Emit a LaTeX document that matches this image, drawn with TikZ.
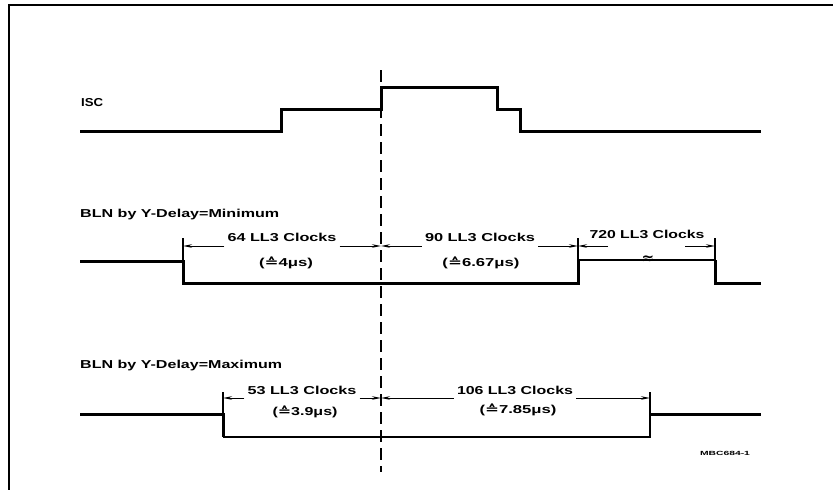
\documentclass[tikz,border=0pt]{standalone}
\usepackage{fontspec}
\setmainfont{Liberation Sans}
\newfontfamily\symf{DejaVu Sans}
\usetikzlibrary{arrows.meta}
\newcommand{\fw}[2]{\resizebox{#1pt}{\height}{#2}}
\newcommand{\corr}{{\symf\bfseries ≙}}
\begin{document}
\begin{tikzpicture}[x=1pt,y=-1pt,
  sig/.style={line width=3pt},
  lite/.style={line width=1.4pt},
  ext/.style={line width=1.2pt},
  dim/.style={line width=1pt,-{Stealth[length=9pt,width=3.5pt]}},
  lbl/.style={inner ysep=0pt,inner xsep=3pt,font=\fontsize{11.5}{13}\selectfont\bfseries},
  marker/.style={line width=2pt,dash pattern=on 12pt off 6pt}]
\useasboundingbox (0,0) rectangle (833,490);
\draw[line width=1.5pt] (9,490) -- (9,5) -- (833,5);

% ISC
\node[lbl,anchor=west,inner xsep=0pt] (isc) at (81,103) {\fw{22}{ISC}};
\draw[sig] (80,131) -- (281,131) -- (281,109) -- (381,109) -- (381,87) -- (497,87) -- (497,109) -- (520,109) -- (520,131) -- (761,131);

% marker line
\coordinate (mtop) at (381,70);
\coordinate (mbot) at (381,472);
\draw[marker] (mtop) -- (mbot);

% BLN minimum
\node[lbl,anchor=west,inner xsep=0pt] (blnmin) at (80,215) {\fw{199}{BLN by Y-Delay=Minimum}};
\draw[sig] (80,261) -- (183,261) -- (183,283) -- (578,283) -- (578,260);
\draw[lite] (578,260) -- (715,260);
\draw[sig] (715,260) -- (715,283) -- (761,283);
\draw[ext] (183,238) -- (183,261);
\draw[ext] (578,238) -- (578,260);
\draw[ext] (715,238) -- (715,260);
\node[inner sep=0pt,font=\fontsize{15}{15}\symf\bfseries] (brk) at (648,260) {≈};

\coordinate (e1) at (183,246);
\coordinate (e2) at (381,246);
\coordinate (e3) at (578,246);
\coordinate (e4) at (715,246);
\coordinate (f1) at (608,246);
\coordinate (f2) at (685,246);

\node[lbl] (t64) at (282,237) {\fw{109}{64 LL3 Clocks}};
\node[lbl] (s64) at (286,263) {\fw{54}{(\corr4μs)}};
\draw[dim] (t64.west|-e1) -- (e1);
\draw[dim] (t64.east|-e1) -- (e2);

\node[lbl] (t90) at (480,237) {\fw{110}{90 LL3 Clocks}};
\node[lbl] (s90) at (481,263) {\fw{77}{(\corr6.67μs)}};
\draw[dim] (t90.west|-e2) -- (e2);
\draw[dim] (t90.east|-e2) -- (e3);

\node[lbl] (t720) at (647,234) {\fw{115}{720 LL3 Clocks}};
\draw[dim] (f1) -- (e3);
\draw[dim] (f2) -- (e4);

% BLN maximum
\node[lbl,anchor=west,inner xsep=0pt] (blnmax) at (80,366) {\fw{202}{BLN by Y-Delay=Maximum}};
\draw[sig] (80,414) -- (223,414) -- (223,437);
\draw[lite] (223,437) -- (650,437) -- (650,414);
\draw[sig] (650,414) -- (761,414);
\draw[ext] (223,392) -- (223,414);
\draw[ext] (650,392) -- (650,414);

\coordinate (g1) at (223,398);
\coordinate (g2) at (381,398);
\coordinate (g3) at (650,398);

\node[lbl] (t53) at (302,390) {\fw{109}{53 LL3 Clocks}};
\node[lbl] (s53) at (305,412) {\fw{65}{(\corr3.9μs)}};
\draw[dim] (t53.west|-g1) -- (g1);
\draw[dim] (t53.east|-g1) -- (g2);

\node[lbl] (t106) at (515,390) {\fw{116}{106 LL3 Clocks}};
\node[lbl] (s106) at (518,410) {\fw{77}{(\corr7.85μs)}};
\draw[dim] (t106.west|-g2) -- (g2);
\draw[dim] (t106.east|-g2) -- (g3);

\node[inner sep=0pt,font=\fontsize{6}{7}\selectfont\bfseries] (code) at (725,453) {\fw{50}{MBC684-1}};
\end{tikzpicture}
\end{document}
